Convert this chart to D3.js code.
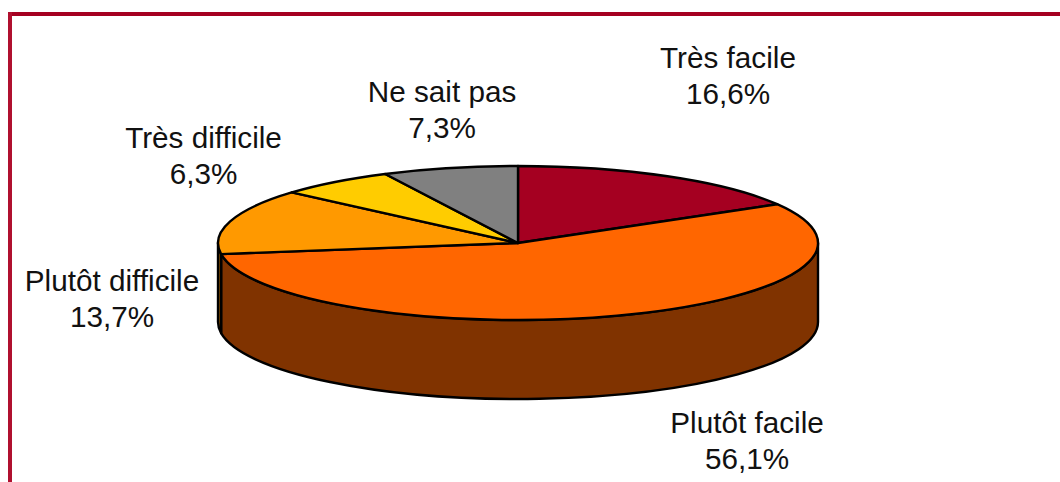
<!DOCTYPE html>
<html><head><meta charset="utf-8">
<script src="https://cdn.jsdelivr.net/npm/d3@7"></script>
<style>html,body{margin:0;padding:0;background:#fff;overflow:hidden}svg{display:block}</style>
</head><body><div id="c"></div>
<script>
const categories = ["Très facile","Plutôt facile","Plutôt difficile","Très difficile","Ne sait pas"];
const values = [16.6,56.1,13.7,6.3,7.3];
const valueLabels = ["16,6%","56,1%","13,7%","6,3%","7,3%"];
const topColors = ["#A50021","#FF6600","#FF9900","#FFCC00","#808080"];
const sideColors = ["#530011","#803300","#804D00","#806600","#404040"];
const labelAnchors = [[728,58],[747,423],[112,281],[203.5,138],[442,92]];

const W=1060,H=482,cx=518,cy=243,rx=300,ry=77,depth=79;
const svg=d3.select("#c").append("svg").attr("width",W).attr("height",H);
svg.append("rect").attr("width",W).attr("height",H).attr("fill","#fff");

const pie=d3.pie().sort(null).value(d=>d);
const arcs=pie(values);
const px=a=>cx+rx*Math.sin(a), py=a=>cy-ry*Math.cos(a);

// side walls: the part of each slice on the front half of the ellipse
arcs.forEach((d,i)=>{
  const a0=Math.max(d.startAngle,Math.PI/2), a1=Math.min(d.endAngle,3*Math.PI/2);
  if(a1<=a0) return;
  const large=a1-a0>Math.PI?1:0;
  const start=`M${px(a0)},${py(a0)}`;
  const top=`A${rx},${ry} 0 ${large} 1 ${px(a1)},${py(a1)}`;
  const down=`L${px(a1)},${py(a1)+depth}`;
  const bottom=`A${rx},${ry} 0 ${large} 0 ${px(a0)},${py(a0)+depth}`;
  svg.append("path").attr("d",start+top+down+bottom+"Z")
    .attr("fill",sideColors[i]).attr("stroke","#000").attr("stroke-width",2.4).attr("stroke-linejoin","round");
});

// top slices
const scale=ry/rx;
const arc=d3.arc().innerRadius(0).outerRadius(rx);
svg.append("g").attr("transform",`translate(${cx},${cy}) scale(1,${scale})`)
  .selectAll("path").data(arcs).join("path")
  .attr("d",arc)
  .attr("fill",(d,i)=>topColors[i])
  .attr("stroke","#000").attr("stroke-width",2.4).attr("stroke-linejoin","round")
  .attr("vector-effect","non-scaling-stroke");

// frame
svg.append("rect").attr("x",8).attr("y",12).attr("width",W-8).attr("height",4).attr("fill","#A50021");
svg.append("rect").attr("x",8).attr("y",12).attr("width",4).attr("height",H-12).attr("fill","#B0102F");

// labels
const lab=svg.append("g").attr("font-family","'Liberation Sans',Arial,sans-serif").attr("font-size",29.7)
  .attr("text-anchor","middle").attr("fill","#111");
categories.forEach((c,i)=>{
  const [x,y]=labelAnchors[i];
  lab.append("text").attr("x",x).attr("y",y+10).text(c);
  lab.append("text").attr("x",x).attr("y",y+46).text(valueLabels[i]);
});
</script></body></html>
